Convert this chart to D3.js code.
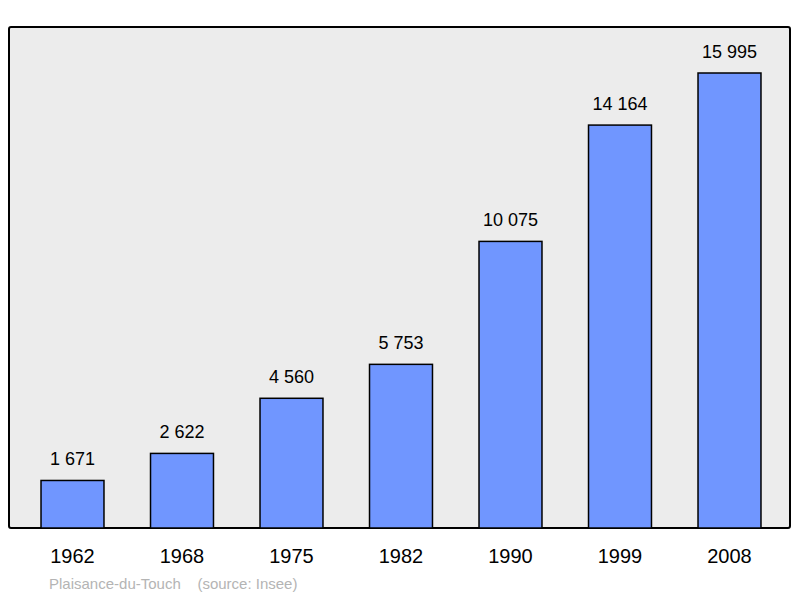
<!DOCTYPE html>
<html>
<head>
<meta charset="utf-8">
<script src="https://cdn.jsdelivr.net/npm/d3@7"></script>
<style>
  body { margin: 0; background: #fff; }
  text { font-family: "Liberation Sans", Arial, sans-serif; }
</style>
</head>
<body>
<svg id="chart" width="800" height="598"></svg>
<script>
// census years and population
const years = ['1962', '1968', '1975', '1982', '1990', '1999', '2008'];
const population = [1671, 2622, 4560, 5753, 10075, 14164, 15995];
const labels = ['1 671', '2 622', '4 560', '5 753', '10 075', '14 164', '15 995'];

let svg = d3.select('#chart');

// plot frame
svg.append('rect')
    .attr('x', 9).attr('y', 27)
    .attr('width', 781).attr('height', 501)
    .attr('rx', 2)
    .attr('fill', '#ececec')
    .attr('stroke', 'black')
    .attr('stroke-width', 2);

let x = d3.scaleBand()
    .domain(years)
    .range([17.75, 784.25])
    .paddingInner(0.425)
    .paddingOuter(0.2125);

let y = d3.scaleLinear()
    .domain([0, 15995])
    .range([528, 73]);

// bars
svg.append('g')
    .selectAll('rect')
    .data(population)
    .enter()
    .append('rect')
    .attr('x', (d, i) => x(years[i]))
    .attr('y', d => y(d))
    .attr('width', x.bandwidth())
    .attr('height', d => y(0) - y(d))
    .attr('fill', '#7096ff')
    .attr('stroke', 'black')
    .attr('stroke-width', 1.5);

// value labels
svg.append('g')
    .selectAll('text')
    .data(population)
    .enter()
    .append('text')
    .attr('x', (d, i) => x(years[i]) + x.bandwidth() / 2)
    .attr('y', d => y(d) - 15)
    .attr('text-anchor', 'middle')
    .attr('font-size', 18)
    .text((d, i) => labels[i]);

// year labels
svg.append('g')
    .selectAll('text')
    .data(years)
    .enter()
    .append('text')
    .attr('x', d => x(d) + x.bandwidth() / 2)
    .attr('y', 563)
    .attr('text-anchor', 'middle')
    .attr('font-size', 20)
    .text(d => d);

// footer
svg.append('text')
    .attr('x', 49).attr('y', 589)
    .attr('font-size', 15)
    .attr('fill', '#b4b4b4')
    .attr('xml:space', 'preserve')
    .text('Plaisance-du-Touch    (source: Insee)');
</script>
</body>
</html>
